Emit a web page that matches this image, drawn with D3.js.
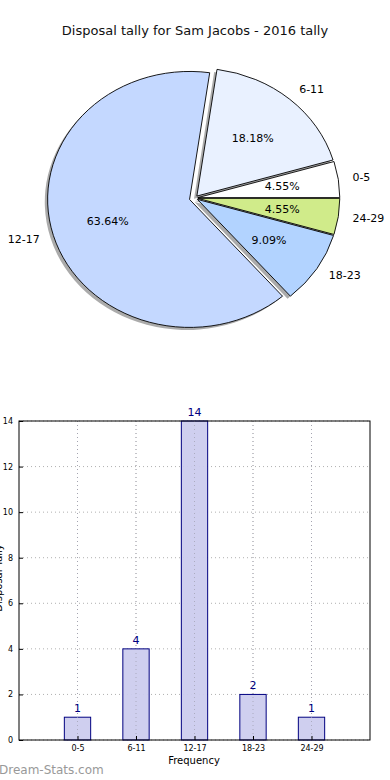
<!DOCTYPE html>
<html><head><meta charset="utf-8">
<script src="https://cdn.jsdelivr.net/npm/d3@7"></script>
<style>body{margin:0;background:#fff}svg{display:block}text{font-family:"DejaVu Sans",sans-serif}</style>
</head><body>
<svg id="c" width="390" height="780"></svg>
<script>
const categories = ["0-5","6-11","12-17","18-23","24-29"];
const counts = [1,4,14,2,1];
const sliceColors = ["#ffffff","#e9f1ff","#c4d8ff","#b2d3ff","#d0eb8a"];
const explode = [0.02,0.02,0.04,0.02,0.02];
const yTicks = [0,2,4,6,8,10,12,14];
const title = "Disposal tally for Sam Jacobs - 2016 tally";

const svg = d3.select("#c");
svg.append("text").attr("x",195).attr("y",35).attr("text-anchor","middle")
  .attr("font-size",13).attr("fill","#111").text(title);

// Pie (elliptical, matplotlib style)
const cx=195, cy=198, rx=142, ry=128;
const total = d3.sum(counts);
const pie = d3.pie().sort(null).startAngle(Math.PI/2).endAngle(Math.PI/2-2*Math.PI);
const arcs = pie(counts);
const arc = d3.arc().innerRadius(0).outerRadius(1);
const g = svg.append("g");
function offs(d,i){
  const m=(d.startAngle+d.endAngle)/2;
  return [cx+explode[i]*rx*Math.sin(m), cy-explode[i]*ry*Math.cos(m), m];
}
arcs.forEach((d,i)=>{
  const [ox,oy]=offs(d,i);
  g.append("path").attr("d",arc(d))
   .attr("transform",`translate(${ox-0.02*rx},${oy+0.02*ry}) scale(${rx},${ry})`)
   .attr("fill","#666").attr("fill-opacity",0.55).attr("stroke","none");
});
arcs.forEach((d,i)=>{
  const [ox,oy]=offs(d,i);
  g.append("path").attr("d",arc(d))
   .attr("transform",`translate(${ox},${oy}) scale(${rx},${ry})`)
   .attr("fill",sliceColors[i]).attr("stroke","#000").attr("stroke-width",0.9)
   .attr("vector-effect","non-scaling-stroke").attr("stroke-linejoin","miter");
});
arcs.forEach((d,i)=>{
  const [ox,oy,m]=offs(d,i);
  const s=Math.sin(m), c=Math.cos(m);
  g.append("text").attr("x",ox+1.1*rx*s).attr("y",oy-1.1*ry*c)
   .attr("text-anchor",s>0?"start":"end").attr("dominant-baseline","central")
   .attr("font-size",11).attr("fill","#000").text(categories[i]);
  g.append("text").attr("x",ox+0.6*rx*s).attr("y",oy-0.6*ry*c)
   .attr("text-anchor","middle").attr("dominant-baseline","central")
   .attr("font-size",11).attr("fill","#000").text((counts[i]/total*100).toFixed(2)+"%");
});

// Bar chart
const L=19,R=370,T=421,B=740;
const x = d3.scaleLinear().domain([-1,categories.length]).range([L,R]);
const y = d3.scaleLinear().domain([0,14]).range([B,T]);
const bw = x(0.45)-x(0);
const b = svg.append("g");
b.selectAll(".gy").data(yTicks).enter().append("line")
 .attr("x1",L).attr("x2",R).attr("y1",d=>y(d)).attr("y2",d=>y(d))
 .attr("stroke","#b0b0b0").attr("stroke-dasharray","1,3").attr("stroke-width",1);
b.selectAll(".gx").data(categories).enter().append("line")
 .attr("x1",(d,i)=>x(i)).attr("x2",(d,i)=>x(i)).attr("y1",T).attr("y2",B)
 .attr("stroke","#b0b0b0").attr("stroke-dasharray","1,3").attr("stroke-width",1);
b.selectAll(".bar").data(counts).enter().append("rect")
 .attr("x",(d,i)=>x(i)-bw/2).attr("width",bw)
 .attr("y",d=>y(d)).attr("height",d=>B-y(d))
 .attr("fill","#ccccee").attr("fill-opacity",0.95).attr("stroke","#000080").attr("stroke-width",1);
b.selectAll(".gx2").data(categories).enter().append("line")
 .attr("x1",(d,i)=>x(i)).attr("x2",(d,i)=>x(i)).attr("y1",T).attr("y2",B)
 .attr("stroke","#a0a0b0").attr("stroke-dasharray","1,3").attr("stroke-width",1).attr("opacity",0.7);
b.selectAll(".vl").data(counts).enter().append("text")
 .attr("x",(d,i)=>x(i)).attr("y",d=>y(d)-5).attr("text-anchor","middle")
 .attr("font-size",11).attr("fill","#000080").text(d=>d);
b.append("rect").attr("x",L).attr("y",T).attr("width",R-L).attr("height",B-T)
 .attr("fill","none").attr("stroke","#000").attr("stroke-width",1);
const yAxis = d3.axisLeft(y).tickValues(yTicks).tickSize(-4).tickPadding(6);
const ya = b.append("g").attr("transform",`translate(${L},0)`).call(yAxis);
ya.select(".domain").remove();
ya.selectAll("text").attr("font-size",8).attr("fill","#000").attr("font-family","DejaVu Sans");
const xAxis = d3.axisBottom(x).tickValues(d3.range(categories.length)).tickFormat(i=>categories[i]).tickSize(-4).tickPadding(5);
const xa = b.append("g").attr("transform",`translate(0,${B})`).call(xAxis);
xa.select(".domain").remove();
xa.selectAll("text").attr("font-size",8).attr("fill","#000").attr("font-family","DejaVu Sans");
svg.append("text").attr("x",194).attr("y",764).attr("text-anchor","middle")
 .attr("font-size",10).attr("fill","#000").text("Frequency");
svg.append("text").attr("transform","translate(2,578) rotate(-90)").attr("text-anchor","middle")
 .attr("font-size",10).attr("fill","#000").text("Disposal Tally");
svg.append("text").attr("x",-1).attr("y",774).attr("font-size",12)
 .attr("fill","#999").text("Dream-Stats.com");
</script>
</body></html>
